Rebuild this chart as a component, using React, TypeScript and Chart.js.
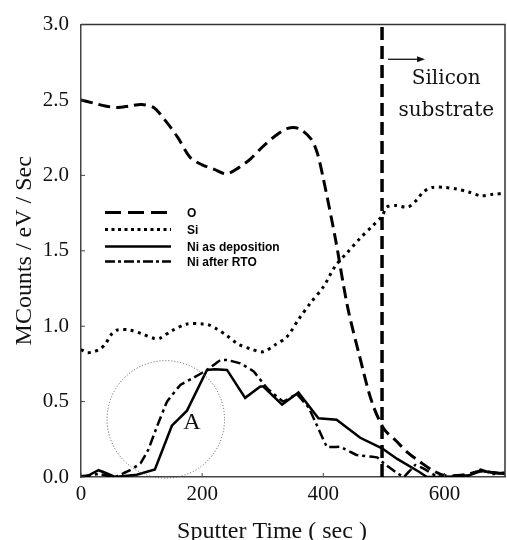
import React, { useEffect, useRef } from "react";
import { Chart, registerables } from "chart.js";

Chart.register(...registerables);

// ---- data ----
const oTime = [0, 20, 40, 60, 80, 100, 120, 140, 160, 180, 200, 220, 240, 260, 280, 300, 320, 340, 360, 380, 390, 400, 420, 440, 460, 480, 500, 520, 540, 560, 580, 600, 620, 640, 660, 680, 700];
const oValues = [2.5, 2.48, 2.46, 2.45, 2.46, 2.47, 2.45, 2.36, 2.25, 2.12, 2.07, 2.04, 2.01, 2.05, 2.11, 2.19, 2.26, 2.31, 2.31, 2.24, 2.15, 1.98, 1.58, 1.13, 0.8, 0.5, 0.32, 0.24, 0.16, 0.1, 0.045, 0.01, 0.01, 0.02, 0.04, 0.03, 0.02];

const siTime = [0, 10, 20, 30, 40, 50, 60, 80, 100, 120, 130, 150, 175, 200, 210, 225, 240, 260, 280, 300, 320, 340, 360, 380, 400, 420, 440, 460, 480, 497, 505, 520, 540, 555, 565, 580, 600, 620, 640, 660, 680, 700];
const siValues = [0.845, 0.825, 0.83, 0.845, 0.88, 0.945, 0.975, 0.975, 0.95, 0.92, 0.92, 0.97, 1.015, 1.015, 1.01, 0.98, 0.94, 0.88, 0.85, 0.83, 0.875, 0.93, 1.05, 1.16, 1.26, 1.4, 1.49, 1.58, 1.66, 1.73, 1.79, 1.8, 1.79, 1.84, 1.89, 1.92, 1.92, 1.91, 1.89, 1.865, 1.875, 1.88];

const niDepTime = [0, 12, 29, 42, 56, 92, 122, 150, 175, 208, 221, 241, 271, 296, 301, 332, 359, 392, 422, 461, 497, 522, 558, 571, 600, 620, 640, 660, 680, 700];
const niDepValues = [0.005, 0.01, 0.045, 0.025, 0.0, 0.015, 0.05, 0.34, 0.44, 0.71, 0.715, 0.71, 0.525, 0.6, 0.6, 0.48, 0.56, 0.39, 0.38, 0.26, 0.19, 0.12, 0.035, 0.0, 0.0, 0.005, 0.01, 0.04, 0.03, 0.02];

const niRtoTime = [0, 29, 56, 81, 98, 111, 125, 142, 164, 191, 208, 230, 241, 263, 285, 307, 334, 356, 376, 406, 428, 456, 489, 500, 522, 533, 552, 568, 585, 600, 640, 660, 680, 700];
const niRtoValues = [0.0, 0.02, 0.0, 0.045, 0.09, 0.18, 0.33, 0.5, 0.61, 0.67, 0.71, 0.775, 0.776, 0.754, 0.7, 0.59, 0.5, 0.55, 0.46, 0.2, 0.2, 0.145, 0.13, 0.09, 0.025, 0.0, 0.08, 0.05, 0.01, 0.0, 0.01, 0.05, 0.02, 0.03];

const substrateBoundary = 497;
const xTickValues = [0, 200, 400, 600];
const yTickValues = [0, 0.5, 1.0, 1.5, 2.0, 2.5, 3.0];
const legendLabels = ["O", "Si", "Ni as deposition", "Ni after RTO"];
const circleCenter = { x: 140, y: 0.382 };
const circleRadiusX = 97;
const labelA = { text: "A", x: 183, y: 0.36 };

const zip = (xs: number[], ys: number[]) => xs.map((x, i) => ({ x, y: ys[i] }));

const SERIF = "'Liberation Serif', 'Times New Roman', serif";

const annotations = {
  id: "annotations",
  afterDatasetsDraw(chart: any) {
    const ctx = chart.ctx as CanvasRenderingContext2D;
    const { left, right, top, bottom } = chart.chartArea;
    const xs = chart.scales.x;
    const ys = chart.scales.y;
    ctx.save();

    // frame (top & right)
    ctx.strokeStyle = "#333";
    ctx.lineWidth = 1.5;
    ctx.setLineDash([]);
    ctx.beginPath();
    ctx.moveTo(left, top);
    ctx.lineTo(right, top);
    ctx.lineTo(right, bottom);
    ctx.stroke();

    // inside ticks
    ctx.lineWidth = 1;
    ctx.strokeStyle = "#444";
    ctx.beginPath();
    xTickValues.forEach((v) => {
      const px = xs.getPixelForValue(v);
      ctx.moveTo(px, bottom);
      ctx.lineTo(px, bottom - 4);
    });
    yTickValues.forEach((v) => {
      const py = ys.getPixelForValue(v);
      ctx.moveTo(left, py);
      ctx.lineTo(left + 4, py);
    });
    ctx.stroke();

    // circle around region A
    const cx = xs.getPixelForValue(circleCenter.x);
    const cy = ys.getPixelForValue(circleCenter.y);
    const r = xs.getPixelForValue(circleCenter.x + circleRadiusX) - cx;
    ctx.strokeStyle = "#555";
    ctx.lineWidth = 1;
    ctx.setLineDash([1, 2]);
    ctx.beginPath();
    ctx.arc(cx, cy, r, 0, Math.PI * 2);
    ctx.stroke();
    ctx.setLineDash([]);

    ctx.fillStyle = "#111";
    ctx.font = `24px ${SERIF}`;
    ctx.textAlign = "center";
    ctx.textBaseline = "middle";
    ctx.fillText(labelA.text, xs.getPixelForValue(labelA.x), ys.getPixelForValue(labelA.y));

    // silicon substrate label + arrow
    const ax1 = xs.getPixelForValue(507);
    const ax2 = xs.getPixelForValue(568);
    const ay = ys.getPixelForValue(2.77);
    ctx.strokeStyle = "#111";
    ctx.lineWidth = 1.3;
    ctx.beginPath();
    ctx.moveTo(ax1, ay);
    ctx.lineTo(ax2 - 6, ay);
    ctx.stroke();
    ctx.beginPath();
    ctx.moveTo(ax2, ay);
    ctx.lineTo(ax2 - 8, ay - 3);
    ctx.lineTo(ax2 - 8, ay + 3);
    ctx.closePath();
    ctx.fill();
    ctx.font = `20px 'DejaVu Serif', serif`;
    ctx.fillText("Silicon", xs.getPixelForValue(603), ys.getPixelForValue(2.64));
    ctx.fillText("substrate", xs.getPixelForValue(603), ys.getPixelForValue(2.43));

    // legend
    const lx1 = left + 24;
    const lx2 = left + 90;
    const tx = left + 106;
    const rows = [top + 188, top + 205, top + 222, top + 237];
    const styles: { dash: number[]; w: number }[] = [
      { dash: [16, 7], w: 3 },
      { dash: [3, 3.5], w: 3 },
      { dash: [], w: 2.5 },
      { dash: [10, 3, 3, 3], w: 2.5 },
    ];
    ctx.textAlign = "left";
    ctx.font = `bold 12px 'Liberation Sans', Arial, sans-serif`;
    rows.forEach((y, i) => {
      ctx.strokeStyle = "#000";
      ctx.lineWidth = styles[i].w;
      ctx.setLineDash(styles[i].dash);
      ctx.beginPath();
      ctx.moveTo(lx1, y);
      ctx.lineTo(lx2, y);
      ctx.stroke();
      ctx.setLineDash([]);
      ctx.fillStyle = "#000";
      ctx.fillText(legendLabels[i], tx, y + 1);
    });

    // axis titles
    ctx.fillStyle = "#111";
    ctx.font = `24px ${SERIF}`;
    ctx.textAlign = "center";
    ctx.textBaseline = "alphabetic";
    ctx.fillText("Sputter Time ( sec )", 272, 538);
    ctx.save();
    ctx.translate(25, (top + bottom) / 2);
    ctx.rotate(-Math.PI / 2);
    ctx.textBaseline = "middle";
    ctx.fillText("MCounts / eV / Sec", 0, 0);
    ctx.restore();

    ctx.restore();
  },
};

export default function App() {
  const ref = useRef<HTMLCanvasElement | null>(null);
  useEffect(() => {
    document.body.style.margin = "0";
    if (!ref.current) return;
    const chart = new Chart(ref.current, {
      type: "line",
      data: {
        datasets: [
          {
            label: "O",
            data: zip(oTime, oValues),
            borderColor: "#000",
            borderWidth: 3,
            borderDash: [12, 6],
            tension: 0.3,
            pointRadius: 0,
          },
          {
            label: "Si",
            data: zip(siTime, siValues),
            borderColor: "#000",
            borderWidth: 3,
            borderDash: [3, 4.5],
            tension: 0.3,
            pointRadius: 0,
          },
          {
            label: "Ni as deposition",
            data: zip(niDepTime, niDepValues),
            borderColor: "#000",
            borderWidth: 2.5,
            tension: 0,
            pointRadius: 0,
          },
          {
            label: "Ni after RTO",
            data: zip(niRtoTime, niRtoValues),
            borderColor: "#000",
            borderWidth: 2.5,
            borderDash: [10, 4, 3, 4],
            tension: 0.05,
            pointRadius: 0,
          },
          {
            label: "boundary",
            data: [
              { x: substrateBoundary, y: 0 },
              { x: substrateBoundary, y: 3 },
            ],
            borderColor: "#000",
            borderWidth: 3.5,
            borderDash: [13, 6],
            pointRadius: 0,
          },
        ],
      },
      options: {
        animation: false,
        responsive: false,
        maintainAspectRatio: false,
        layout: { padding: { left: 0, right: 2, top: 18, bottom: 0 } },
        plugins: { legend: { display: false }, tooltip: { enabled: false } },
        scales: {
          x: {
            type: "linear",
            min: 0,
            max: 700,
            afterBuildTicks: (s: any) => {
              s.ticks = xTickValues.map((v) => ({ value: v }));
            },
            afterFit: (s: any) => {
              s.height = 63;
            },
            grid: { drawOnChartArea: false, drawTicks: false },
            border: { display: true, color: "#444", width: 1.5 },
            ticks: {
              padding: 5,
              color: "#111",
              font: { family: SERIF, size: 21 },
              maxRotation: 0,
            },
          },
          y: {
            min: 0,
            max: 3,
            afterBuildTicks: (s: any) => {
              s.ticks = yTickValues.map((v) => ({ value: v }));
            },
            afterFit: (s: any) => {
              s.width = 81;
            },
            grid: { drawOnChartArea: false, drawTicks: false },
            border: { display: true, color: "#444", width: 1.5 },
            ticks: {
              padding: 12,
              color: "#111",
              font: { family: SERIF, size: 21 },
              callback: (v: any) => Number(v).toFixed(1),
            },
          },
        },
      },
      plugins: [annotations],
    });
    return () => chart.destroy();
  }, []);
  return (
    <div style={{ width: 507, height: 540, background: "#fff" }}>
      <canvas ref={ref} width={507} height={540} style={{ width: 507, height: 540, display: "block" }} />
    </div>
  );
}
